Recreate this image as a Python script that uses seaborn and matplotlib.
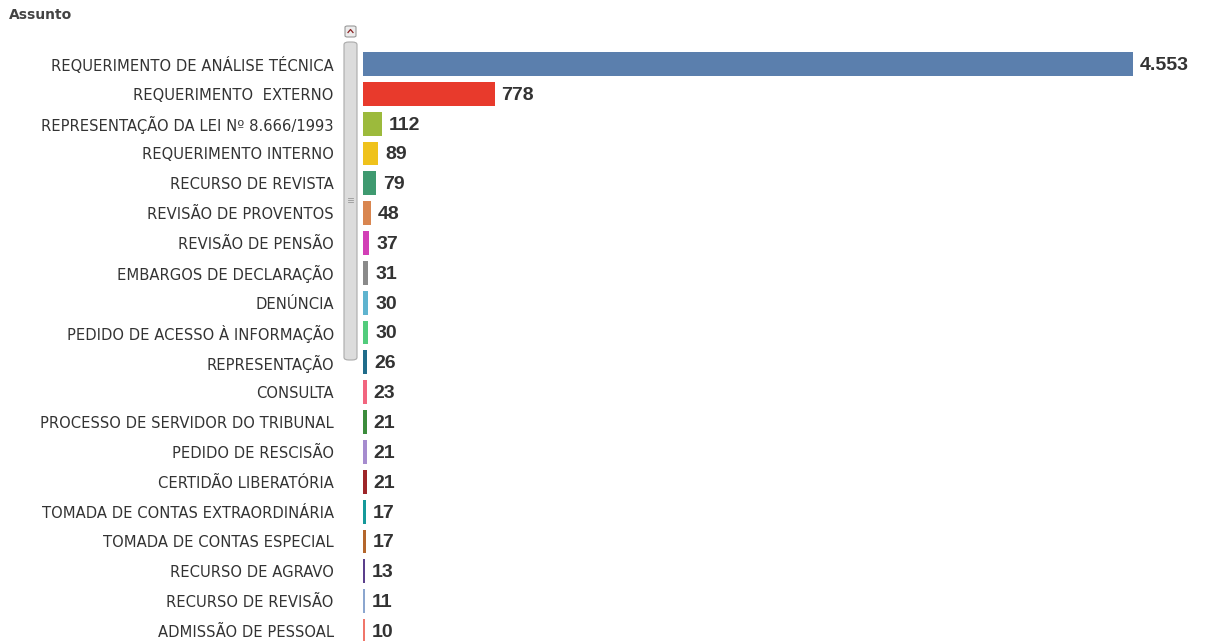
import matplotlib
matplotlib.use("Agg")
import matplotlib.pyplot as plt
from matplotlib.patches import FancyBboxPatch
import seaborn as sns
import pandas as pd

# Dados do gráfico
assuntos = [
    "REQUERIMENTO DE ANÁLISE TÉCNICA",
    "REQUERIMENTO  EXTERNO",
    "REPRESENTAÇÃO DA LEI Nº 8.666/1993",
    "REQUERIMENTO INTERNO",
    "RECURSO DE REVISTA",
    "REVISÃO DE PROVENTOS",
    "REVISÃO DE PENSÃO",
    "EMBARGOS DE DECLARAÇÃO",
    "DENÚNCIA",
    "PEDIDO DE ACESSO À INFORMAÇÃO",
    "REPRESENTAÇÃO",
    "CONSULTA",
    "PROCESSO DE SERVIDOR DO TRIBUNAL",
    "PEDIDO DE RESCISÃO",
    "CERTIDÃO LIBERATÓRIA",
    "TOMADA DE CONTAS EXTRAORDINÁRIA",
    "TOMADA DE CONTAS ESPECIAL",
    "RECURSO DE AGRAVO",
    "RECURSO DE REVISÃO",
    "ADMISSÃO DE PESSOAL",
]
quantidades = [4553, 778, 112, 89, 79, 48, 37, 31, 30, 30,
               26, 23, 21, 21, 21, 17, 17, 13, 11, 10]
rotulos = ["4.553", "778", "112", "89", "79", "48", "37", "31", "30", "30",
           "26", "23", "21", "21", "21", "17", "17", "13", "11", "10"]
cores = ["#5b7fad", "#e83a2c", "#9cba3c", "#efc21c", "#3f9a70", "#d98650",
         "#d23fb6", "#8a8a8a", "#5fb4cf", "#52cc7c", "#1f6c8a", "#f2657f",
         "#3c8c3c", "#a68ccf", "#9e2529", "#16999a", "#b4662c", "#5b3f8c",
         "#8ba6cf", "#f0766a"]

df = pd.DataFrame({"assunto": assuntos, "qtd": quantidades})

fig = plt.figure(figsize=(12.05, 6.41), dpi=100)
ax = fig.add_axes([363 / 1205, 0.0, (1200 - 363) / 1205, 1 - 49 / 641])

sns.barplot(data=df, y="assunto", x="qtd", hue="assunto", palette=cores,
            legend=False, width=0.8, ax=ax, saturation=1)

ax.set_xlim(0, 4553 * 837 / 770)
ax.set_ylim(19 + 10 / 29.84, -0.5)

for i, (v, t) in enumerate(zip(quantidades, rotulos)):
    ax.annotate(t, xy=(v, i), xytext=(5, -1), textcoords="offset points",
                va="center", ha="left", fontsize=14, fontweight="bold",
                color="#333333", family="Liberation Sans")

ax.set_xlabel("")
ax.set_ylabel("")
ax.set_xticks([])
ax.tick_params(axis="y", length=0, pad=21, labelsize=10.6, labelcolor="#333333")
for lbl in ax.get_yticklabels():
    lbl.set_family("DejaVu Sans")
for s in ax.spines.values():
    s.set_visible(False)

# título
fig.text(9 / 1205, 1 - 15 / 641, "Assunto", fontsize=10, fontweight="bold",
         color="#444444", va="center", ha="left", family="DejaVu Sans")

# barra de rolagem
W, H = 1205, 641
fig.patches.append(FancyBboxPatch((345 / W, 1 - 37 / H), 11 / W, 11 / H,
                                  boxstyle="round,pad=0,rounding_size=0.002",
                                  transform=fig.transFigure, facecolor="#ececec",
                                  edgecolor="#999999", linewidth=0.8))
fig.add_artist(plt.Line2D([348 / W, 350.5 / W, 353 / W],
                          [1 - 32.5 / H, 1 - 29.5 / H, 1 - 32.5 / H],
                          color="#8b2020", linewidth=0.9))
fig.patches.append(FancyBboxPatch((344 / W, 1 - 360 / H), 13 / W, 318 / H,
                                  boxstyle="round,pad=0,rounding_size=0.004",
                                  transform=fig.transFigure, facecolor="#dcdcdc",
                                  edgecolor="#aaaaaa", linewidth=0.8))
for dy in (-2, 0, 2):
    fig.add_artist(plt.Line2D([348 / W, 353 / W],
                              [1 - (200 + dy) / H, 1 - (200 + dy) / H],
                              color="#999999", linewidth=0.6))

fig.savefig("out.png", dpi=100)
